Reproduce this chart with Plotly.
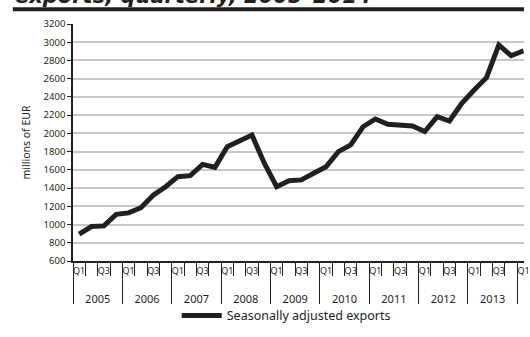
import plotly.graph_objects as go

# ---- data ----
years = [2005, 2006, 2007, 2008, 2009, 2010, 2011, 2012, 2013, 2014]
quarter_names = ["Q1", "Q2", "Q3", "Q4"]
exports = [
    895, 978, 985, 1112,      # 2005
    1128, 1185, 1322, 1415,   # 2006
    1525, 1536, 1660, 1628,   # 2007
    1854, 1920, 1982, 1672,   # 2008
    1415, 1481, 1490, 1562,   # 2009
    1634, 1800, 1873, 2073,   # 2010
    2158, 2099, 2092, 2081,   # 2011
    2020, 2183, 2136, 2331,   # 2012
    2476, 2611, 2970, 2852,   # 2013
    2907,                     # 2014
]
shown_quarter_labels = ["Q1", "Q3"]
year_labels = [str(y) for y in years[:-1]]
y_ticks = list(range(600, 3201, 200))
series_name = "Seasonally adjusted exports"
y_title = "millions of EUR"
title_text = "exports, quarterly, 2005–2014"

# category names for each observation
cats = []
for y in years:
    for q in quarter_names:
        cats.append(f"{y} {q}")
cats = cats[:len(exports)]

INK = "#231f20"
FONT = "Noto Sans"
rng = [-0.5, 36.04]

fig = go.Figure()
fig.add_trace(go.Scatter(
    x=cats, y=exports, mode="lines", name=series_name,
    line=dict(color=INK, width=5),
))
# empty helper traces so the overlay axes (quarter ticks, year dividers, year labels) get drawn
for ax in ["x2", "x3", "x4"]:
    fig.add_trace(go.Scatter(x=[], y=[], xaxis=ax, yaxis="y", mode="lines",
                             showlegend=False, hoverinfo="skip"))

q_vals = [c for c in cats if c.split(" ")[1] in shown_quarter_labels]
q_text = [c.split(" ")[1] for c in q_vals]
n_years = len(year_labels)
year_starts = [i * 4 - 0.5 for i in range(n_years + 1)]
year_centers = [i * 4 + 1.5 for i in range(n_years)]

fig.update_layout(
    width=530, height=337,
    margin=dict(l=73, r=0, t=24, b=76),
    paper_bgcolor="white", plot_bgcolor="white",
    font=dict(family=FONT, color=INK, size=9),
    showlegend=True,
    legend=dict(orientation="h", x=0.23, xanchor="left", y=-0.232, yanchor="middle",
                itemwidth=40,
                font=dict(size=12.5, family=FONT, color=INK), bgcolor="rgba(0,0,0,0)"),
    xaxis=dict(type="category", categoryorder="array", categoryarray=cats,
               range=rng, tickmode="array", tickvals=q_vals, ticktext=q_text,
               ticks="", showline=True, linecolor=INK, linewidth=1.5,
               showgrid=False, zeroline=False, tickfont=dict(size=9)),
    xaxis2=dict(type="linear", overlaying="x", anchor="y", side="bottom", range=rng,
                tickmode="linear", tick0=-0.5, dtick=1, ticks="outside", ticklen=14,
                tickcolor=INK, tickwidth=1, showticklabels=False, showgrid=False,
                showline=False, zeroline=False),
    xaxis3=dict(type="linear", overlaying="x", anchor="y", side="bottom", range=rng,
                tickmode="array", tickvals=year_starts, ticks="outside", ticklen=42,
                tickcolor=INK, tickwidth=1, showticklabels=False, showgrid=False,
                showline=False, zeroline=False),
    xaxis4=dict(type="linear", overlaying="x", anchor="y", side="bottom", range=rng,
                tickmode="array", tickvals=year_centers, ticktext=year_labels,
                ticks="outside", ticklen=28, tickcolor="rgba(0,0,0,0)",
                showgrid=False, showline=False, zeroline=False,
                tickfont=dict(size=11)),
    yaxis=dict(range=[600, 3200], tickmode="array", tickvals=y_ticks,
               showgrid=True, gridcolor="#c8c8c8", gridwidth=1.5,
               showline=True, linecolor=INK, linewidth=1.5,
               ticks="outside", ticklen=4, tickcolor=INK, zeroline=False,
               tickfont=dict(size=9.5),
               title=dict(text=y_title, font=dict(size=10.5), standoff=11)),
)

# title (cropped at top in the reference) and rule under it
fig.add_annotation(text=title_text, xref="paper", yref="paper",
                   x=(12 - 73) / 457, y=(261 - 10) / 237, xanchor="left", yanchor="bottom",
                   showarrow=False,
                   font=dict(family="DejaVu Sans", size=21, color=INK, weight="bold", style="italic"))
fig.add_shape(type="line", xref="paper", yref="paper",
              x0=(12 - 73) / 457, x1=1.0, y0=(261 - 9.3) / 237, y1=(261 - 9.3) / 237,
              line=dict(color=INK, width=4))

fig.write_html("out.html")
